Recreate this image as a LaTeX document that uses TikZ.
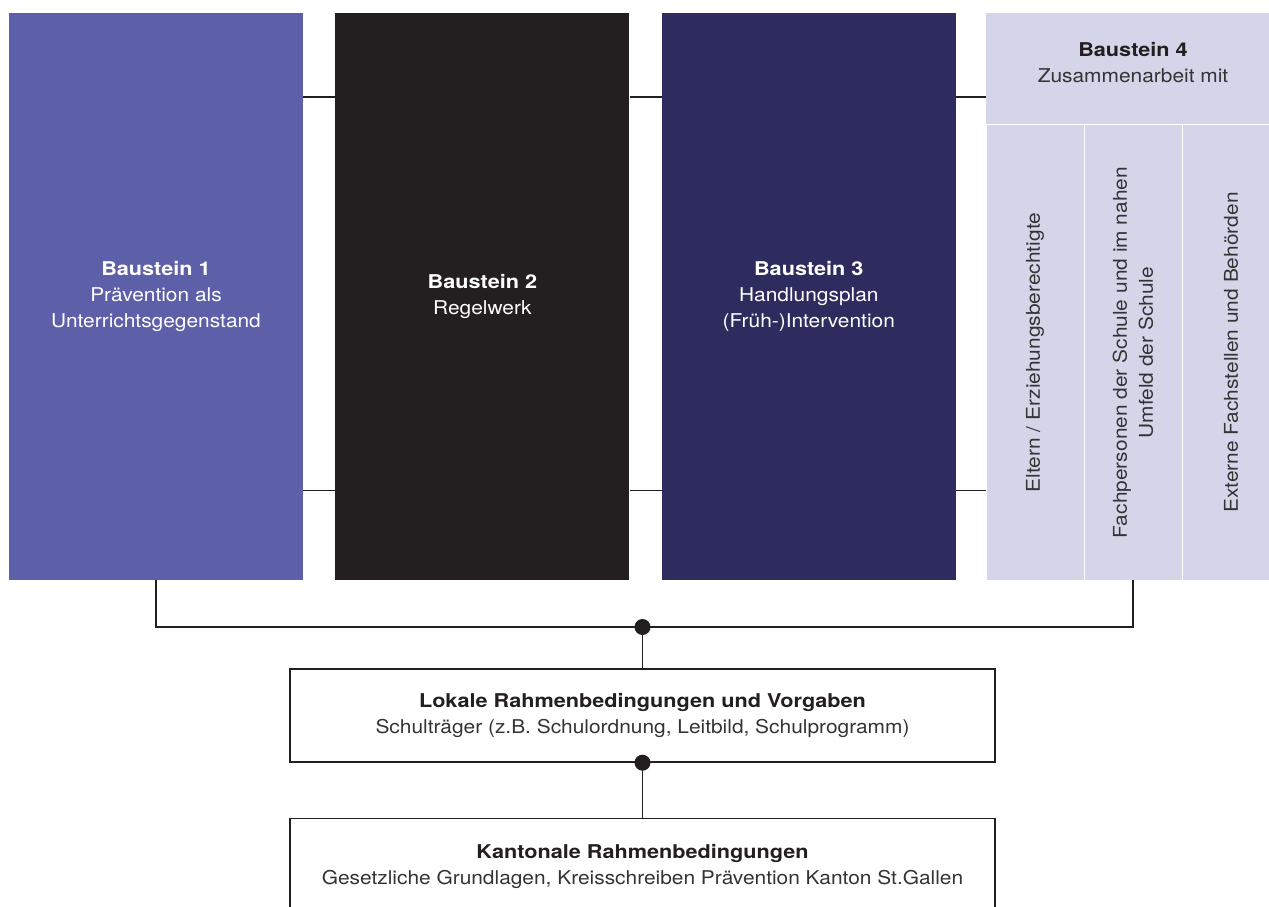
\documentclass[tikz,border=0pt]{standalone}
\usepackage{fontspec}
\setmainfont{TeX Gyre Heros}[FakeStretch=1.1, BoldFeatures={FakeStretch=1.14}]
\usetikzlibrary{positioning}
\definecolor{bsone}{HTML}{5D5FA8}
\definecolor{bstwo}{HTML}{231F20}
\definecolor{bsthree}{HTML}{2E2C5E}
\definecolor{bsfour}{HTML}{D5D5EA}
\definecolor{txt}{HTML}{333333}
\tikzset{
     block/.style={inner sep=0pt, minimum width=294pt, minimum height=567pt, align=center,
                   text=white, font=\fontsize{19}{26}\selectfont},
     pale/.style={fill=bsfour, inner sep=0pt, align=center, text=txt,
                  font=\fontsize{19}{26}\selectfont},
     col/.style={pale, rotate=90, minimum width=455pt, minimum height=97pt},
     frame/.style={draw=bstwo, line width=1.4pt, inner sep=0pt, minimum width=705pt,
                   align=center, text=txt, font=\fontsize{19}{26}\selectfont},
     link/.style={draw=bstwo, line width=1.4pt},
    }
\begin{document}
\begin{tikzpicture}[x=1pt,y=-1pt]
    \useasboundingbox (0,0) rectangle (1269,906);
    \clip (0,0) rectangle (1269,906);
        % bausteine
        \node [block, fill=bsone]   (b1) at (156,296.5) {{\bfseries Baustein 1}\\Prävention als\\Unterrichtsgegenstand};
        \node [block, fill=bstwo]   (b2) [right=32pt of b1] {{\bfseries Baustein 2}\\Regelwerk};
        \node [block, fill=bsthree] (b3) [right=32pt of b2] {{\bfseries Baustein 3}\\Handlungsplan\\(Früh-)Intervention};

        \node [pale, minimum width=294pt, minimum height=111pt] (h4) at (1133,68.5)
              {{\bfseries\color{bstwo}Baustein 4}\\Zusammenarbeit mit\\[-13pt]};
        \node [col] (c1) at (1035,352.5) {Eltern / Erziehungsberechtigte};
        \node [col] (c2) at (1133,352.5) {Fachpersonen der Schule und im nahen\\Umfeld der Schule};
        \node [col] (c3) at (1231,352.5) {Externe Fachstellen und Behörden};

        % rahmen
        \node [frame, minimum height=93pt] (lok) at (642.5,715.5)
              {{\bfseries\color{bstwo}Lokale Rahmenbedingungen und Vorgaben}\\Schulträger (z.B. Schulordnung, Leitbild, Schulprogramm)};
        \node [frame, minimum height=96pt, anchor=north] (kan) at (642.5,818)
              {{\bfseries\color{bstwo}Kantonale Rahmenbedingungen}\\Gesetzliche Grundlagen, Kreisschreiben Prävention Kanton St.Gallen};

        \coordinate (bus) at (642.5,627);

        \path[link]
        ([yshift=-84pt]b1.north east) edge ([yshift=-84pt]b2.north west)
        ([yshift=-84pt]b2.north east) edge ([yshift=-84pt]b3.north west)
        ([yshift=-84pt]b3.north east) edge ([yshift=-84pt]h4.north west)
        ([yshift=90pt]b1.south east) edge ([yshift=90pt]b2.south west)
        ([yshift=90pt]b2.south east) edge ([yshift=90pt]b3.south west)
        ([yshift=90pt]b3.south east) edge ([yshift=90pt]c1.north west);

        \draw[link] (b1.south) |- (bus) -| (c2.west);
        \draw[link] (bus) -- (lok.north);
        \draw[link] (lok.south) -- (kan.north);
        \fill[bstwo] (bus) circle (8);
        \fill[bstwo] (lok.south) circle (8);
    \end{tikzpicture}
\end{document}
